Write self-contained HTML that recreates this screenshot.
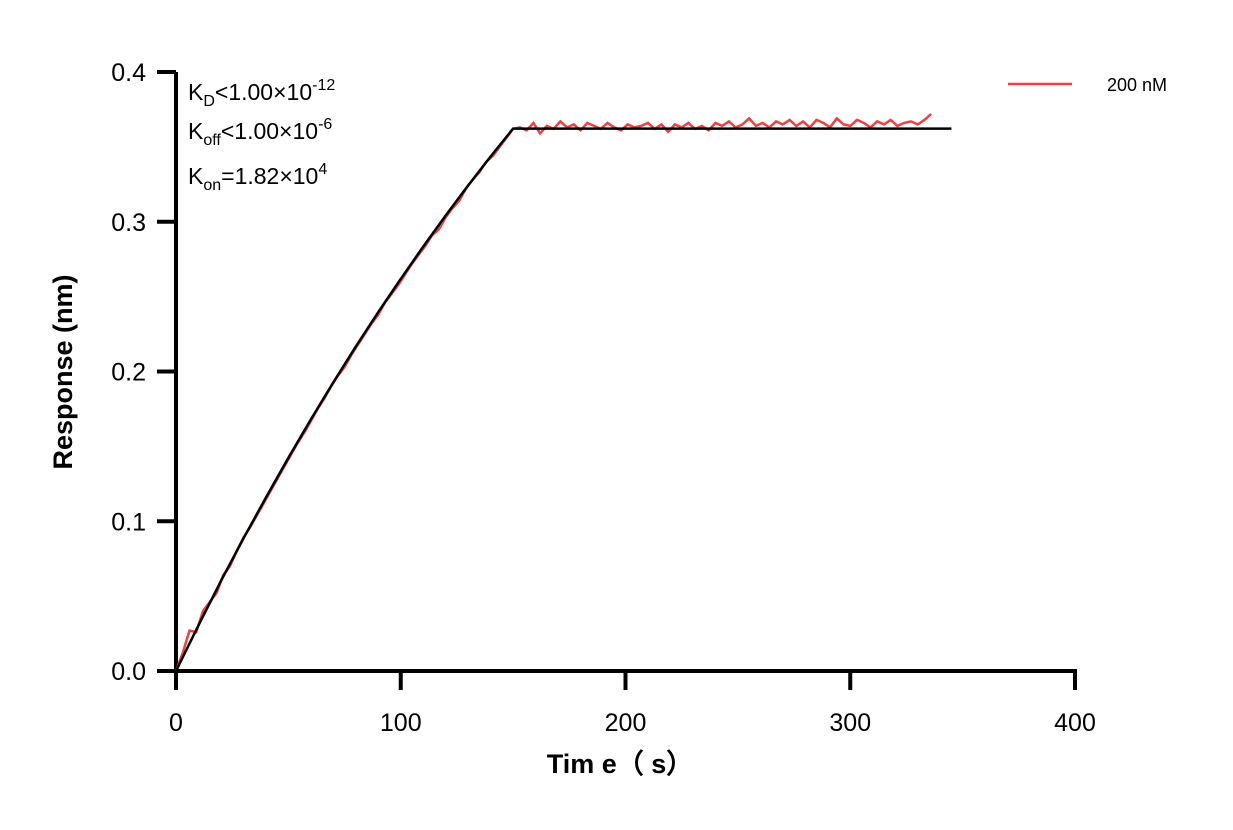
<!DOCTYPE html>
<html><head><meta charset="utf-8"><style>
body{margin:0;background:#fff}
svg text{font-family:"Liberation Sans",Arial,sans-serif}
</style></head><body>
<svg id="chart" width="1233" height="825" viewBox="0 0 1233 825" xmlns="http://www.w3.org/2000/svg">
<g id="axes"></g>
<g id="series"></g>
<g font-size="23" fill="#000">
<text x="188" y="100">K<tspan font-size="16" dy="6">D</tspan><tspan dy="-6">&lt;1.00×10</tspan><tspan font-size="16" dy="-10">-12</tspan></text>
<text x="188" y="139">K<tspan font-size="16" dy="6">off</tspan><tspan dy="-6">&lt;1.00×10</tspan><tspan font-size="16" dy="-10">-6</tspan></text>
<text x="188" y="184">K<tspan font-size="16" dy="6">on</tspan><tspan dy="-6">=1.82×10</tspan><tspan font-size="16" dy="-10">4</tspan></text>
</g>
<g>
<line x1="1008" y1="84" x2="1072" y2="84" stroke="#f04040" stroke-width="2.5"/>
<text x="1107" y="91" font-size="18">200 nM</text>
</g>
<text x="620" y="773" font-size="27" font-weight="bold" text-anchor="middle">Tim e（ s）</text>
<text transform="translate(72,372) rotate(-90)" font-size="27" font-weight="bold" text-anchor="middle">Response (nm)</text>
</svg>
<script>
const xTicks=[0,100,200,300,400];
const yTicks=[0.0,0.1,0.2,0.3,0.4];
const yTickLabels=["0.0","0.1","0.2","0.3","0.4"];
const fitTimes=[0,10,20,30,40,50,60,70,80,90,100,110,120,130,140,150,345];
const fitValues=[0,0.0305,0.060,0.0885,0.1158,0.1424,0.168,0.1927,0.2166,0.2397,0.2619,0.2834,0.3042,0.3243,0.3436,0.3622,0.3622];
const dataStep=3;
const dataValues=[0,.012,.027,.026,.040,.046,.052,.064,.070,.080,.089,.096,.104,.112,.120,.128,.136,.144,.152,.159,.167,.175,.182,.190,.197,.203,.211,.218,.225,.232,.238,.246,.252,.258,.265,.272,.278,.284,.291,.295,.303,.309,.314,.322,.328,.333,.340,.344,.350,.356,.362,
.363,.361,.366,.359,.364,.362,.367,.363,.365,.361,.366,.364,.362,.366,.363,.361,.365,.363,.364,.366,.362,.365,.360,.365,.363,.366,.362,.364,.361,.366,.364,.367,.363,.365,.369,.364,.366,.363,.367,.365,.368,.364,.367,.363,.368,.366,.363,.369,.365,.364,.368,.366,.363,.367,.365,.368,.364,.366,.367,.365,.368,.372];
const sx=v=>176+v*(1075-176)/400;
const sy=v=>671-v*(671-72)/0.4;
const NS="http://www.w3.org/2000/svg";
const axes=document.getElementById('axes'),series=document.getElementById('series');
function mk(tag,attrs,parent){const e=document.createElementNS(NS,tag);for(const k in attrs)e.setAttribute(k,attrs[k]);parent.appendChild(e);return e;}
let a=mk('line',{x1:176,y1:72,x2:176,y2:673,stroke:'#000','stroke-width':4},axes);


a=mk('line',{x1:174,y1:671,x2:1077,y2:671,stroke:'#000','stroke-width':4},axes);


xTicks.forEach(t=>{
 const l=mk('line',{x1:sx(t),y1:671,x2:sx(t),y2:690,stroke:'#000','stroke-width':4},axes);
 
 
 const tx=mk('text',{x:sx(t),y:731,'font-size':25,'text-anchor':'middle'},axes);
 tx.textContent=t;
 
 
});
yTicks.forEach((t,i)=>{
 const l=mk('line',{x1:157,y1:sy(t),x2:176,y2:sy(t),stroke:'#000','stroke-width':4},axes);
 
 
 const tx=mk('text',{x:146,y:sy(t)+9,'font-size':25,'text-anchor':'end'},axes);
 tx.textContent=yTickLabels[i];
 
 
});
const dp=mk('path',{d:dataValues.map((v,i)=>(i?'L':'M')+sx(i*dataStep).toFixed(1)+','+sy(v).toFixed(1)).join(''),fill:'none',stroke:'#f04040','stroke-width':2.5},series);


const fp=mk('path',{d:fitTimes.map((t,i)=>(i?'L':'M')+sx(t).toFixed(1)+','+sy(fitValues[i]).toFixed(1)).join(''),fill:'none',stroke:'#000','stroke-width':2.5},series);


</script>
</body></html>
